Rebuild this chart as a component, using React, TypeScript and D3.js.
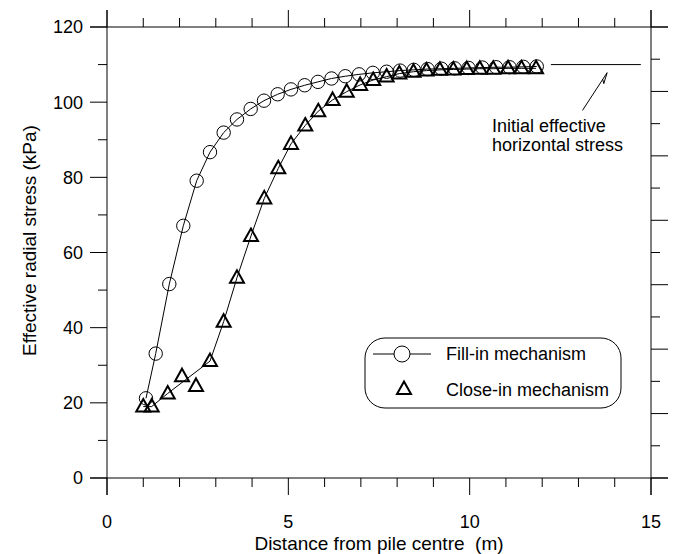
import React, { useEffect } from 'react';
import * as d3 from 'd3';

// ---- data ----
const fillInDistance = [1.075, 1.343, 1.718, 2.104, 2.473, 2.84, 3.217, 3.584, 3.962, 4.329, 4.706, 5.073, 5.451, 5.817, 6.19, 6.57, 6.95, 7.33, 7.71, 8.08, 8.46, 8.84, 9.22, 9.59, 9.97, 10.35, 10.73, 11.1, 11.48, 11.85];
const fillInStress = [21.2, 33.1, 51.6, 67.1, 79.1, 86.7, 91.9, 95.4, 98.2, 100.4, 102.1, 103.4, 104.5, 105.4, 106.3, 106.9, 107.4, 107.8, 108.1, 108.4, 108.6, 108.8, 108.9, 109.0, 109.1, 109.2, 109.3, 109.3, 109.4, 109.5];
const closeInDistance = [1.0, 1.232, 1.674, 2.068, 2.454, 2.84, 3.217, 3.584, 3.97, 4.337, 4.723, 5.073, 5.467, 5.826, 6.22, 6.61, 6.98, 7.34, 7.71, 8.06, 8.45, 8.81, 9.18, 9.55, 9.92, 10.28, 10.65, 11.06, 11.43, 11.83];
const closeInStress = [19.0, 19.0, 22.5, 27.1, 24.5, 31.1, 41.6, 53.3, 64.4, 74.4, 82.4, 88.9, 93.8, 97.6, 100.6, 102.8, 104.6, 105.9, 106.8, 107.6, 108.1, 108.4, 108.6, 108.7, 108.8, 108.9, 108.9, 109.0, 109.0, 109.0];
const closeInCurveSkip = [3, 4];
const xTickLabels = [0, 5, 10, 15];
const yTickLabels = [0, 20, 40, 60, 80, 100, 120];
const initialStress = 110;
const initialStressSpan = [12.24, 14.72];
const legendLabels = ['Fill-in mechanism', 'Close-in mechanism'];

const FONT = '"Liberation Sans", Arial, Helvetica, sans-serif';

export default function App() {
  useEffect(() => {
    document.body.style.margin = '0';
  }, []);
  const W = 674, H = 554;
  const x = d3.scaleLinear().domain([0, 15]).range([107, 651]);
  const y = d3.scaleLinear().domain([0, 120]).range([478, 27]);
  const yR = d3.scaleLinear().domain([0, 14]).range([478, 27]);
  const L = 17, S = 9;
  const x0 = x(0), x1 = x(15), y0 = y(0), y1 = y(120);

  const fillPts = fillInDistance.map((d, i) => [x(d), y(fillInStress[i])] as [number, number]);
  const closePts = closeInDistance.map((d, i) => [x(d), y(closeInStress[i])] as [number, number]);
  const closeCurve = closePts.filter((_, i) => !closeInCurveSkip.includes(i));
  const line = d3.line();
  const tri = 'M0,-7.5L7,5L-7,5Z';

  const xMinor = d3.range(0, 16);
  const yMinor = d3.range(0, 121, 10);
  const rMinor = d3.range(0, 15);

  // annotation arrow
  const ax0 = x(13.11), ay0 = y(97.8), ax1 = x(13.79), ay1 = y(107.85);
  const len = Math.hypot(ax0 - ax1, ay0 - ay1);
  const ux = (ax0 - ax1) / len, uy = (ay0 - ay1) / len;
  const px = -uy, py = ux;
  const bx = ax1 + 11 * ux - 3.2 * px, by = ay1 + 11 * uy - 3.2 * py;
  const mx = ax1 + 8 * ux, my = ay1 + 8 * uy;

  const lgX = 365, lgY = 338, lgW = 256, lgH = 70;

  return (
    <svg width={W} height={H} style={{ display: 'block', position: 'absolute', left: 0, top: 0, background: '#fff' }} fontFamily={FONT}>
      <rect width={W} height={H} fill="#fff" />
      <g stroke="#000" strokeWidth={1} fill="none">
        {/* frame lines extended past corners */}
        <line x1={x0 - L} x2={x1 + L} y1={y0} y2={y0} />
        <line x1={x0 - L} x2={x1 + L} y1={y1} y2={y1} />
        <line x1={x0} x2={x0} y1={y1 - L} y2={y0 + L} />
        <line x1={x1} x2={x1} y1={y1 - L} y2={y0 + L} />
        {xMinor.map(v => (
          <g key={'xt' + v}>
            <line x1={x(v)} x2={x(v)} y1={y0} y2={y0 + (v % 5 === 0 ? L : S)} />
            <line x1={x(v)} x2={x(v)} y1={y1} y2={y1 - (v % 5 === 0 ? L : S)} />
          </g>
        ))}
        {yMinor.map(v => (
          <line key={'yt' + v} x1={x0} x2={x0 - (v % 20 === 0 ? L : S)} y1={y(v)} y2={y(v)} />
        ))}
        {rMinor.map(v => (
          <line key={'rt' + v} x1={x1} x2={x1 + (v % 2 === 0 ? L : S)} y1={yR(v)} y2={yR(v)} />
        ))}
      </g>
      <g fontSize={18} fill="#000">
        {xTickLabels.map(v => (
          <text key={'xl' + v} x={x(v)} y={528} textAnchor="middle">{v}</text>
        ))}
        {yTickLabels.map(v => (
          <text key={'yl' + v} x={83} y={y(v)} dy="0.36em" textAnchor="end">{v}</text>
        ))}
      </g>
      <g fontSize={19} fill="#000">
        <text x={(x0 + x1) / 2} y={550} textAnchor="middle" style={{ whiteSpace: 'pre' }}>{'Distance from pile centre  (m)'}</text>
        <text transform={`translate(36,${(y0 + y1) / 2 - 12}) rotate(-90)`} textAnchor="middle">Effective radial stress (kPa)</text>
      </g>

      {/* data */}
      <path d={line(fillPts) || ''} fill="none" stroke="#000" strokeWidth={1} />
      <path d={line(closeCurve) || ''} fill="none" stroke="#000" strokeWidth={1} />
      {fillPts.map(([cx, cy], i) => (
        <circle key={'c' + i} cx={cx} cy={cy} r={6.7} fill="none" stroke="#000" strokeWidth={1} />
      ))}
      {closePts.map(([cx, cy], i) => (
        <path key={'t' + i} d={tri} transform={`translate(${cx},${cy})`} fill="none" stroke="#000" strokeWidth={2} />
      ))}

      {/* annotation */}
      <line x1={x(initialStressSpan[0])} x2={x(initialStressSpan[1])} y1={y(initialStress)} y2={y(initialStress)} stroke="#000" strokeWidth={1} />
      <line x1={ax0} y1={ay0} x2={ax1} y2={ay1} stroke="#000" strokeWidth={1} />
      <polyline points={`${ax1},${ay1} ${bx},${by} ${mx},${my}`} fill="none" stroke="#000" strokeWidth={1} />
      <g fontSize={18} fill="#000">
        <text x={492} y={132}>Initial effective</text>
        <text x={492} y={150.5}>horizontal stress</text>
      </g>

      {/* legend */}
      <rect x={lgX} y={lgY} width={lgW} height={lgH} rx={20} ry={20} fill="#fff" stroke="#000" strokeWidth={1} />
      <line x1={373} x2={431} y1={354} y2={354} stroke="#000" strokeWidth={1} />
      <circle cx={402} cy={354} r={8} fill="#fff" stroke="#000" strokeWidth={1} />
      <path d={tri} transform="translate(404,389)" fill="none" stroke="#000" strokeWidth={2} />
      <g fontSize={18} fill="#000">
        <text x={446} y={360}>{legendLabels[0]}</text>
        <text x={446} y={396}>{legendLabels[1]}</text>
      </g>
    </svg>
  );
}
